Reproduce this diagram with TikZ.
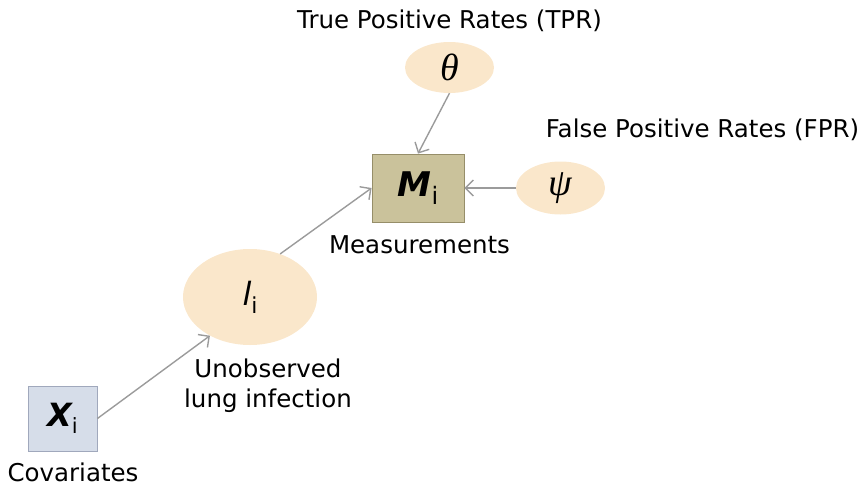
\documentclass[tikz,border=0pt]{standalone}
\usepackage{fontspec}
\setmainfont{DejaVu Sans}
\newfontfamily\greekfont{Liberation Serif}
\usetikzlibrary{arrows.meta,shapes.geometric}

\definecolor{peach}{RGB}{250,231,203}
\definecolor{khaki}{RGB}{202,194,155}
\definecolor{khakiedge}{RGB}{150,142,105}
\definecolor{slate}{RGB}{214,221,233}
\definecolor{slateedge}{RGB}{160,168,188}
\definecolor{linkgray}{RGB}{155,155,155}

\tikzset{
  param/.style={ellipse, fill=peach, draw=none, inner sep=0pt},
  latent/.style={ellipse, fill=peach, draw=none, inner sep=0pt,
    minimum width=134pt, minimum height=96pt},
  obsbox/.style={rectangle, fill=khaki, draw=khakiedge, line width=0.8pt,
    minimum width=92pt, minimum height=68pt, inner sep=0pt},
  covbox/.style={rectangle, fill=slate, draw=slateedge, line width=0.8pt,
    minimum width=69pt, minimum height=65pt, inner sep=0pt},
  caption/.style={anchor=base, inner sep=0pt, font=\fontsize{24.5}{30}\selectfont, align=center},
  link/.style={draw=linkgray, line width=1.4pt,
    -{Straight Barb[length=8pt,width=16pt,line width=1.4pt]}},
}

\begin{document}
\begin{tikzpicture}[x=1pt, y=-1pt]
  \useasboundingbox (0,0) rectangle (862,490);

  % parameter nodes
  \node[param, minimum width=89pt, minimum height=51pt] (theta) at (449.5,67.5)
    {\fontsize{38}{38}\selectfont\greekfont\itshape θ};
  \node[param, minimum width=89pt, minimum height=53pt] (psi) at (560.5,188)
    {\fontsize{38}{38}\selectfont\greekfont\itshape ψ};

  % measurement box
  \node[obsbox] (M) at (418,188)
    {\fontsize{34}{34}\selectfont\bfseries\itshape M\fontsize{24}{24}\selectfont\normalfont\raisebox{-8pt}{i}};

  % latent infection state
  \node[latent] (L) at (250,297)
    {\fontsize{32}{32}\selectfont\itshape l\fontsize{22}{22}\selectfont\normalfont\raisebox{-8pt}{i}};

  % covariates
  \node[covbox] (X) at (62.5,418.5)
    {\fontsize{32}{32}\selectfont\bfseries\itshape X\fontsize{21}{21}\selectfont\normalfont\raisebox{-7pt}{i}};

  % captions
  \node[caption] (tprlab) at (449.5,28) {True Positive Rates (TPR)};
  \node[caption] (fprlab) at (702.5,137) {False Positive Rates (FPR)};
  \node[caption] (mlab) at (419.5,253) {Measurements};
  \node[caption] (llab1) at (268,377) {Unobserved};
  \node[caption] (llab2) at (268,407) {lung infection};
  \node[caption] (xlab) at (73,481) {Covariates};

  % dependencies
  \draw[link] (theta.south) -- (M.north);
  \draw[link] (psi.west) -- (M.east);
  \draw[link] (L.55) -- (M.west);
  \draw[link] (X.east) -- (L.224);
\end{tikzpicture}
\end{document}
